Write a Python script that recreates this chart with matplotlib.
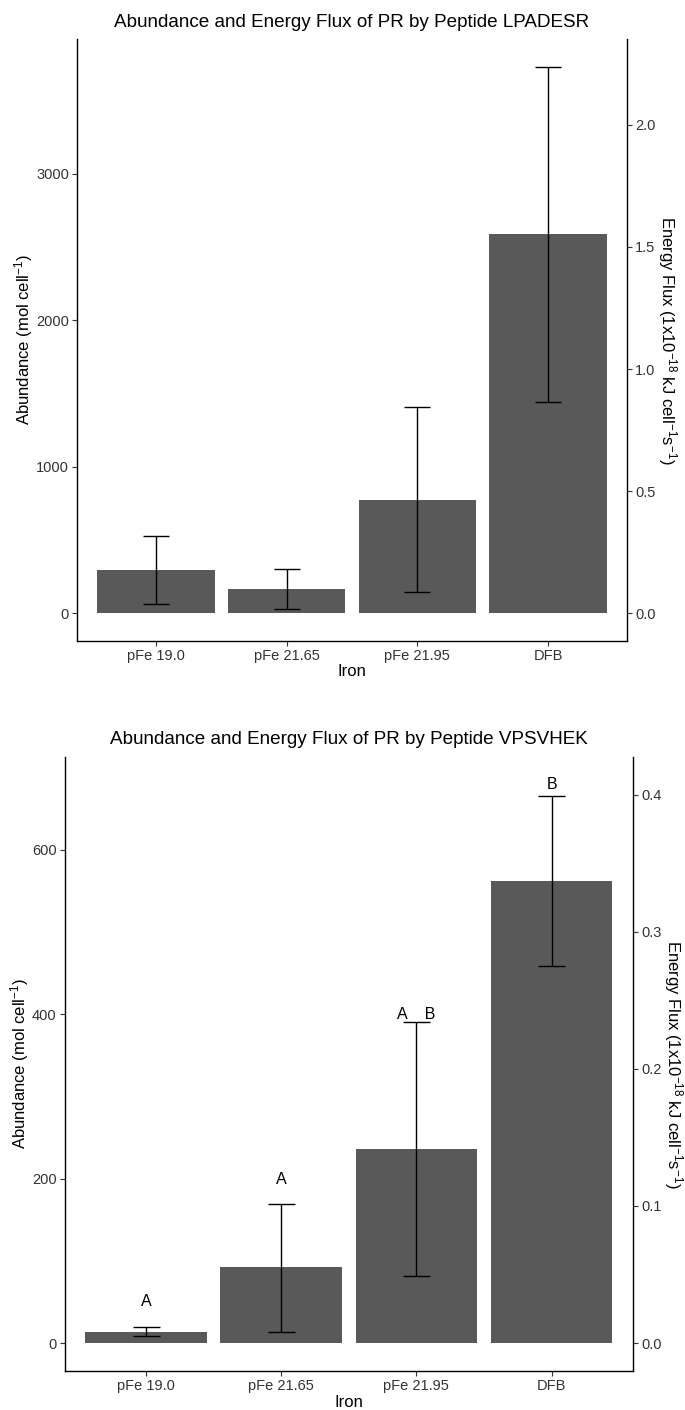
import numpy as np
import matplotlib.pyplot as plt

plt.rcParams['font.family'] = ['Liberation Sans', 'DejaVu Sans']
plt.rcParams['mathtext.default'] = 'regular'

# Iron treatments
iron = ['pFe 19.0', 'pFe 21.65', 'pFe 21.95', 'DFB']

# peptide LPADESR, abundance (mol cell-1): mean and error bar ends
lpadesr_mean = [292, 168, 775, 2590]
lpadesr_lo = [60, 28, 142, 1440]
lpadesr_hi = [527, 305, 1408, 3730]

# peptide VPSVHEK
vpsvhek_mean = [14, 92, 236, 562]
vpsvhek_lo = [9, 14, 82, 458]
vpsvhek_hi = [20, 169, 390, 665]
vpsvhek_letters = ['A', 'A', 'A    B', 'B']
vpsvhek_letter_y = [50, 199, 399, 679]

# energy flux (1x10-18 kJ cell-1 s-1) per abundance unit
flux_per_mol = 6.0e-4

W, H = 685, 1410
bar_col = '#595959'
txt_col = '#333333'


def px_rect(left, right, top, bottom):
    return [left / W, 1 - bottom / H, (right - left) / W, (bottom - top) / H]


def draw_panel(ax, mean, lo, hi, title, yticks, rticks, letters=None, letter_y=None):
    x = np.arange(len(iron))
    ax.bar(x, mean, width=0.9, color=bar_col, zorder=1)
    # error bars as in ggplot (cap width 0.2)
    ax.vlines(x, lo, hi, color='black', lw=1.0, zorder=2)
    ax.hlines(lo, x - 0.1, x + 0.1, color='black', lw=1.0, zorder=2)
    ax.hlines(hi, x - 0.1, x + 0.1, color='black', lw=1.0, zorder=2)

    top = max(hi)
    if letters is not None:
        for xi, lab, yy in zip(x, letters, letter_y):
            ax.text(xi, yy, lab, ha='center', va='center', fontsize=11.5, color='black')
        top = max(top, max(letter_y))
    pad = 0.05 * top
    ax.set_ylim(-pad, top + pad)
    ax.set_xlim(-0.6, len(iron) - 0.4)

    ax.set_xticks(x)
    ax.set_xticklabels(iron)
    ax.set_yticks(yticks)
    ax.tick_params(axis='both', length=3.5, width=0.8, color=txt_col,
                   labelcolor=txt_col, labelsize=10.5, pad=2.5)

    for s in ['top', 'right']:
        ax.spines[s].set_visible(False)
    for s in ['left', 'bottom']:
        ax.spines[s].set_linewidth(1.0)

    ax.set_title(title, fontsize=13.6, pad=9)
    ax.set_xlabel('Iron', fontsize=12, labelpad=1)
    ax.set_ylabel('Abundance (mol cell$^{-1}$)', fontsize=12, labelpad=0.5)

    sec = ax.secondary_yaxis('right', functions=(lambda v: v * flux_per_mol,
                                                 lambda v: v / flux_per_mol))
    sec.set_yticks(rticks)
    sec.set_yticklabels(['%.1f' % t for t in rticks])
    sec.tick_params(axis='y', length=3.5, width=0.8, color=txt_col,
                    labelcolor=txt_col, labelsize=10.5, pad=2.5)
    sec.spines['right'].set_linewidth(1.0)
    sec.set_ylabel('Energy Flux (1x10$^{-18}$ kJ cell$^{-1}$s$^{-1}$)',
                   fontsize=12, rotation=270, labelpad=17)


fig = plt.figure(figsize=(W / 100, H / 100), dpi=100)

ax1 = fig.add_axes(px_rect(77.3, 626.7, 39.3, 640.6))
draw_panel(ax1, lpadesr_mean, lpadesr_lo, lpadesr_hi,
           'Abundance and Energy Flux of PR by Peptide LPADESR',
           [0, 1000, 2000, 3000], [0.0, 0.5, 1.0, 1.5, 2.0])

ax2 = fig.add_axes(px_rect(65, 632.7, 756.7, 1371))
draw_panel(ax2, vpsvhek_mean, vpsvhek_lo, vpsvhek_hi,
           'Abundance and Energy Flux of PR by Peptide VPSVHEK',
           [0, 200, 400, 600], [0.0, 0.1, 0.2, 0.3, 0.4],
           vpsvhek_letters, vpsvhek_letter_y)

fig.savefig('out.png', dpi=100)
